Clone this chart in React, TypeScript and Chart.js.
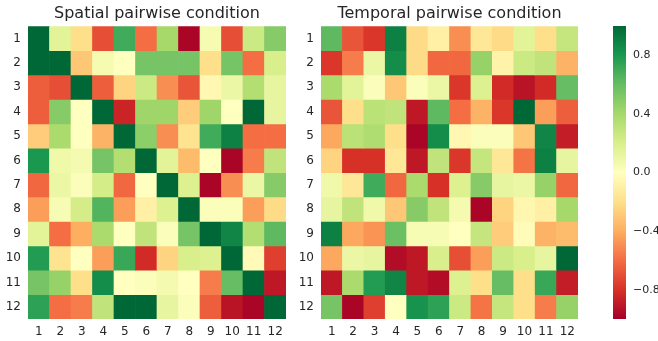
import React, { useEffect, useRef } from "react";
import { Chart, registerables } from "chart.js";

Chart.register(...registerables);

const labels = ["1", "2", "3", "4", "5", "6", "7", "8", "9", "10", "11", "12"];

const spatial = [
  [1.0, 0.15, -0.2, -0.7, 0.7, -0.6, 0.4, -0.98, 0.05, -0.7, 0.25, 0.5],
  [1.0, 1.0, -0.3, 0.05, 0.0, 0.55, 0.55, 0.55, -0.2, 0.55, -0.6, 0.2],
  [-0.65, -0.7, 1.0, -0.65, -0.25, 0.25, -0.5, -0.68, -0.05, 0.1, 0.35, 0.12],
  [-0.65, 0.5, 0.0, 1.0, -0.85, 0.42, 0.42, -0.28, 0.42, 0.0, 1.0, 0.12],
  [-0.28, 0.38, 0.0, -0.38, 1.0, 0.48, -0.5, -0.18, 0.7, 0.9, -0.6, -0.6],
  [0.8, 0.08, 0.06, 0.55, 0.35, 1.0, 0.15, -0.35, 0.0, -0.98, -0.55, 0.3],
  [-0.62, 0.1, 0.02, 0.22, -0.62, 0.0, 1.0, 0.18, -0.98, -0.5, 0.1, 0.5],
  [-0.45, 0.04, 0.22, 0.65, -0.45, -0.1, 0.18, 1.0, 0.02, 0.02, -0.45, -0.22],
  [0.15, -0.6, -0.4, 0.38, 0.0, 0.3, 0.02, 0.55, 1.0, 0.88, 0.35, 0.62],
  [0.78, -0.18, 0.0, -0.45, 0.72, -0.82, -0.25, 0.2, 0.18, 1.0, -0.03, -0.75],
  [0.55, 0.45, -0.2, 0.85, 0.0, 0.02, 0.06, 0.0, -0.55, 0.6, 1.0, -0.9],
  [0.75, -0.6, -0.55, 0.3, 1.0, 1.0, 0.12, 0.02, -0.65, -0.92, -0.98, 1.0],
];

const temporal = [
  [0.62, -0.68, -0.78, 0.9, -0.22, -0.1, -0.5, -0.15, -0.22, 0.15, -0.2, 0.28],
  [-0.78, -0.55, 0.1, 0.85, -0.22, -0.62, -0.62, 0.45, -0.08, 0.25, 0.3, -0.38],
  [0.38, 0.15, 0.02, -0.3, 0.02, 0.1, -0.78, 0.18, -0.82, -0.92, -0.82, 0.6],
  [-0.68, -0.2, 0.32, 0.3, -0.9, 0.62, -0.6, -0.38, -0.78, 1.0, -0.45, -0.65],
  [-0.42, 0.32, 0.36, -0.2, -0.98, 0.85, -0.05, 0.02, 0.02, -0.3, 0.88, -0.88],
  [-0.25, -0.8, -0.8, -0.15, -0.9, 0.3, -0.78, 0.28, -0.15, -0.58, 0.9, 0.12],
  [0.08, -0.15, 0.7, -0.62, 0.38, -0.8, 0.18, 0.5, 0.12, 0.1, 0.45, -0.62],
  [0.12, 0.3, 0.08, -0.3, 0.5, 0.3, 0.06, -0.98, -0.25, -0.06, -0.1, 0.4],
  [0.9, -0.42, -0.48, 0.58, 0.04, 0.04, 0.0, 0.28, -0.28, -0.02, -0.38, -0.35],
  [-0.42, 0.1, 0.12, -0.95, -0.9, 0.2, -0.7, -0.45, 0.25, 0.2, 0.12, 1.0],
  [-0.9, 0.38, 0.78, 0.88, -0.9, -0.95, 0.18, -0.2, 0.6, -0.2, 0.72, -0.88],
  [0.55, -0.98, -0.75, 0.0, 0.82, 0.75, 0.25, -0.58, 0.28, -0.2, -0.55, 0.45],
];

const colorbarTicks = [0.8, 0.4, 0.0, -0.4, -0.8];

const RDYLGN = [
  "#a50026", "#d73027", "#f46d43", "#fdae61", "#fee08b", "#ffffbf",
  "#d9ef8b", "#a6d96a", "#66bd63", "#1a9850", "#006837",
];

function hexToRgb(h: string) {
  return [parseInt(h.slice(1, 3), 16), parseInt(h.slice(3, 5), 16), parseInt(h.slice(5, 7), 16)];
}

function colorFor(v: number) {
  let t = (v + 1) / 2;
  t = Math.max(0, Math.min(1, t));
  const pos = t * 10;
  const i = Math.min(9, Math.floor(pos));
  const f = pos - i;
  const a = hexToRgb(RDYLGN[i]);
  const b = hexToRgb(RDYLGN[i + 1]);
  const c = a.map((x, k) => Math.round(x + (b[k] - x) * f));
  return `rgb(${c[0]},${c[1]},${c[2]})`;
}

const TEXT = "#262626";
const FONT = "'DejaVu Sans', sans-serif";

function makeHeatmap(canvas: HTMLCanvasElement, matrix: number[][], title: string, padRight: number) {
  return new Chart(canvas, {
    type: "bar",
    data: {
      labels,
      datasets: matrix.map((row, r) => ({
        data: row.map(() => [r, r + 1]),
        backgroundColor: row.map(colorFor),
        borderWidth: 0,
        barPercentage: 1,
        categoryPercentage: 1,
        grouped: false,
      })) as any,
    },
    options: {
      responsive: false,
      animation: false,
      devicePixelRatio: 1,
      layout: { padding: { left: 0, right: padRight, top: 0, bottom: 0 } },
      plugins: {
        legend: { display: false },
        tooltip: { enabled: false },
        title: {
          display: true,
          text: title,
          fullSize: false,
          color: TEXT,
          font: { family: FONT, size: 16, weight: "normal" },
          padding: { top: 4, bottom: 3 },
        },
      },
      scales: {
        x: {
          type: "category",
          grid: { display: false, drawTicks: false },
          border: { display: false },
          ticks: { color: TEXT, font: { family: FONT, size: 12 }, padding: 6, maxRotation: 0, autoSkip: false },
          afterFit: (s: any) => { s.height = 22; },
        },
        y: {
          type: "linear",
          min: 0,
          max: 12,
          reverse: true,
          grid: { display: false, drawTicks: false },
          border: { display: false },
          ticks: {
            color: TEXT,
            font: { family: FONT, size: 12 },
            padding: 7,
            callback: (v: any) => labels[Math.floor(Number(v))],
          },
          afterBuildTicks: (s: any) => {
            s.ticks = labels.map((_, i) => ({ value: i + 0.5 }));
          },
          afterFit: (s: any) => { s.width = 28; },
        },
      },
    } as any,
  });
}

function makeColorbar(canvas: HTMLCanvasElement) {
  return new Chart(canvas, {
    type: "bar",
    data: {
      labels: [""],
      datasets: [
        {
          data: [[-1, 1]] as any,
          borderWidth: 0,
          barPercentage: 1,
          categoryPercentage: 1,
          backgroundColor: (ctx: any) => {
            const a = ctx.chart.chartArea;
            if (!a) return RDYLGN[5];
            const g = ctx.chart.ctx.createLinearGradient(0, a.bottom, 0, a.top);
            RDYLGN.forEach((c, i) => g.addColorStop(i / 10, c));
            return g;
          },
        },
      ],
    },
    options: {
      responsive: false,
      animation: false,
      devicePixelRatio: 1,
      layout: { padding: { left: 13, right: 0, top: 26, bottom: 22 } },
      plugins: { legend: { display: false }, tooltip: { enabled: false } },
      scales: {
        x: { display: false },
        y: {
          type: "linear",
          position: "right",
          min: -1,
          max: 1,
          grid: { display: false, drawTicks: false },
          border: { display: false },
          ticks: {
            color: TEXT,
            font: { family: FONT, size: 11 },
            padding: 7,
            callback: (v: any) => {
              const n = Number(v);
              return (n < 0 ? "\u2212" : "") + Math.abs(n).toFixed(1);
            },
          },
          afterBuildTicks: (s: any) => {
            s.ticks = colorbarTicks.map((v) => ({ value: v }));
          },
          afterFit: (s: any) => { s.width = 32; },
        },
      },
    } as any,
  });
}

export default function App() {
  const leftRef = useRef<HTMLCanvasElement>(null);
  const rightRef = useRef<HTMLCanvasElement>(null);
  const barRef = useRef<HTMLCanvasElement>(null);

  useEffect(() => {
    const c1 = makeHeatmap(leftRef.current!, spatial, "Spatial pairwise condition", 14);
    const c2 = makeHeatmap(rightRef.current!, temporal, "Temporal pairwise condition", 15);
    const c3 = makeColorbar(barRef.current!);
    return () => {
      c1.destroy();
      c2.destroy();
      c3.destroy();
    };
  }, []);

  const abs = (left: number, width: number): React.CSSProperties => ({
    position: "absolute",
    left,
    top: 0,
    width,
    height: 341,
  });

  return (
    <div style={{ position: "fixed", left: 0, top: 0, width: 658, height: 341, background: "#fff" }}>
      <canvas ref={leftRef} width={300} height={341} style={abs(0, 300)} />
      <canvas ref={rightRef} width={300} height={341} style={abs(293, 300)} />
      <canvas ref={barRef} width={58} height={341} style={abs(600, 58)} />
    </div>
  );
}
